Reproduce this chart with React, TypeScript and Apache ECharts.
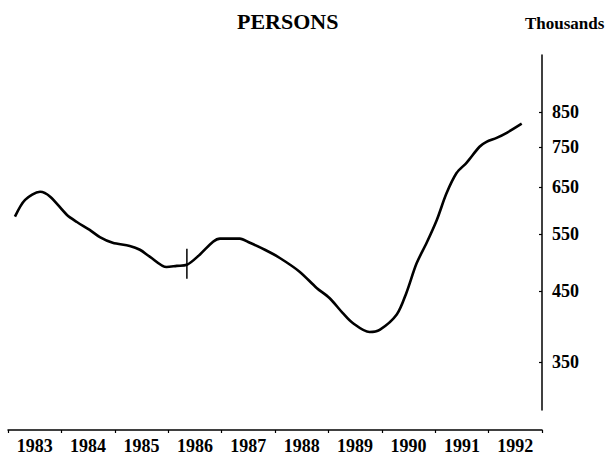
import React, { useEffect, useRef } from "react";
import * as echarts from "echarts";

// Decimal year positions of the traced curve
const years: number[] = [
  1983.13, 1983.32, 1983.6, 1983.79, 1984.1, 1984.29, 1984.53, 1984.72, 1984.96,
  1985.28, 1985.47, 1985.66, 1985.97, 1986.16, 1986.35, 1986.59, 1986.84, 1986.97,
  1987.34, 1987.53, 1987.81, 1988.09, 1988.46, 1988.78, 1989.02, 1989.27, 1989.45,
  1989.77, 1989.96, 1990.28, 1990.46, 1990.65, 1990.84, 1991.03, 1991.21, 1991.4,
  1991.59, 1991.83, 1991.96, 1992.15, 1992.34, 1992.62,
];
// Persons, thousands
const persons: number[] = [
  586, 622, 640, 629, 590, 575, 559, 545, 534,
  528, 521, 508, 490, 492, 494, 512, 536, 542,
  542, 534, 521, 506, 482, 455, 439, 416, 402,
  389, 392, 414, 447, 496, 534, 579, 636, 684,
  710, 751, 764, 775, 789, 815,
];
// Break marker (series discontinuity) at 1986
const breakYear: number[] = [1986.35, 1986.35];
const breakValues: number[] = [523, 470];

const yearLabels: string[] = [
  "1983", "1984", "1985", "1986", "1987", "1988", "1989", "1990", "1991", "1992",
];
const yTicks: number[] = [350, 450, 550, 650, 750, 850];
const yRange: number[] = [295, 1040];

const FONT = "'Liberation Serif', 'DejaVu Serif', serif";

export default function App() {
  const ref = useRef<HTMLDivElement>(null);

  useEffect(() => {
    if (!ref.current) return;
    const chart = echarts.init(ref.current, undefined, { renderer: "svg" });
    const lg = (v: number) => Math.log10(v);
    const tickVals = yTicks.map(lg);

    chart.setOption({
      animation: false,
      backgroundColor: "#ffffff",
      title: [
        {
          text: "PERSONS",
          left: 232,
          top: 5,
          textStyle: { fontFamily: FONT, fontWeight: "bold", fontSize: 22, color: "#000" },
        },
        {
          text: "Thousands",
          left: 520,
          top: 10,
          textStyle: { fontFamily: FONT, fontWeight: "bold", fontSize: 17, color: "#000" },
        },
      ],
      grid: [
        { left: 8, right: 68, top: 55, bottom: 50 },
        { left: 8, right: 68, top: 429, height: 1 },
      ],
      xAxis: [
        { type: "value", gridIndex: 0, min: 1983, max: 1993, show: false },
        {
          type: "category",
          gridIndex: 1,
          data: yearLabels,
          boundaryGap: true,
          position: "bottom",
          axisLine: { show: true, lineStyle: { color: "#000", width: 1.5 } },
          axisTick: { show: true, length: 3, lineStyle: { color: "#000", width: 1.2 } },
          axisLabel: {
            margin: 7,
            fontFamily: FONT,
            fontWeight: "bold",
            fontSize: 18,
            color: "#000",
            interval: 0,
          },
          splitLine: { show: false },
        },
      ],
      yAxis: [
        {
          type: "value",
          gridIndex: 0,
          position: "right",
          min: lg(yRange[0]),
          max: lg(yRange[1]),
          axisLine: { show: true, lineStyle: { color: "#000", width: 1.5 } },
          axisTick: {
            show: true,
            inside: true,
            length: 3,
            customValues: tickVals,
            lineStyle: { color: "#000", width: 1.2 },
          },
          axisLabel: {
            show: true,
            customValues: tickVals,
            margin: 10,
            formatter: (v: number) => String(Math.round(Math.pow(10, v))),
            fontFamily: FONT,
            fontWeight: "bold",
            fontSize: 18,
            color: "#000",
          },
          splitLine: { show: false },
        },
        { type: "value", gridIndex: 1, show: false, min: 0, max: 1 },
      ],
      series: [
        {
          type: "line",
          xAxisIndex: 0,
          yAxisIndex: 0,
          data: years.map((y, i) => [y, lg(persons[i])]),
          smooth: 0.3,
          symbol: "none",
          lineStyle: { color: "#000", width: 2.6 },
        },
        {
          type: "line",
          xAxisIndex: 0,
          yAxisIndex: 0,
          data: breakYear.map((y, i) => [y, lg(breakValues[i])]),
          symbol: "none",
          lineStyle: { color: "#000", width: 1.5 },
        },
      ],
    });

    return () => chart.dispose();
  }, []);

  return (
    <div
      ref={ref}
      style={{ position: "fixed", left: 0, top: 0, width: 610, height: 460, background: "#fff" }}
    />
  );
}
